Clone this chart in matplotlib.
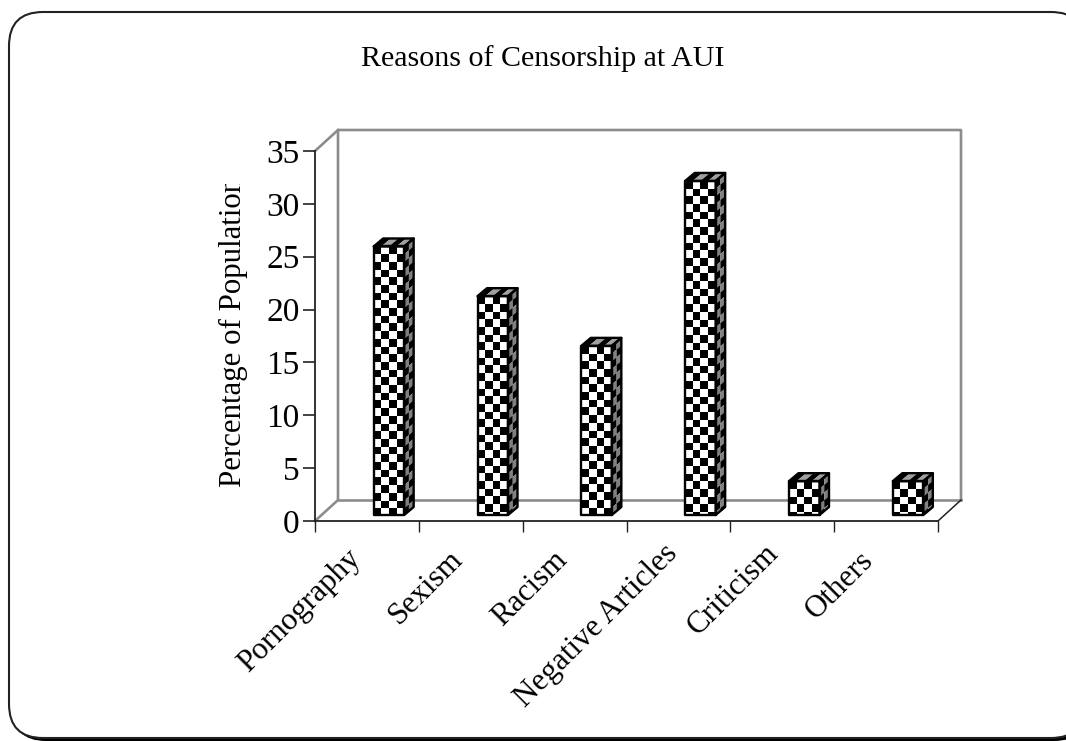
import numpy as np
import matplotlib.pyplot as plt
from matplotlib.patches import FancyBboxPatch, Polygon, Rectangle
from matplotlib.collections import PolyCollection

categories = ["Pornography", "Sexism", "Racism", "Negative Articles", "Criticism", "Others"]
values = [25.4, 20.7, 16.0, 31.6, 3.2, 3.2]
y_ticks = [0, 5, 10, 15, 20, 25, 30, 35]

W, H = 1066, 741
plt.rcParams['font.family'] = ['Liberation Serif', 'DejaVu Serif']

fig = plt.figure(figsize=(W / 100, H / 100), dpi=100)
bg = fig.add_axes([0, 0, 1, 1])
bg.set_xlim(0, W)
bg.set_ylim(H, 0)
bg.axis('off')

# rounded slide border, black shadow shows along the bottom
r = 34
bg.add_patch(FancyBboxPatch((9 + r + 3, 12 + r + 3), 1076 - 2 * r, 726 - 2 * r,
                            boxstyle=f"round,pad={r},rounding_size={r}",
                            fc='black', ec='none'))
bg.add_patch(FancyBboxPatch((9 + r, 12 + r), 1076 - 2 * r, 726 - 2 * r,
                            boxstyle=f"round,pad={r},rounding_size={r}",
                            fc='white', ec='#222222', lw=1.5))

L, R, B, T = 315, 938, 521, 151
ax = fig.add_axes([L / W, 1 - B / H, (R - L) / W, (B - T) / H])
ax.set_xlim(0, len(categories))
ax.set_ylim(0, 35)
ax.patch.set_alpha(0)
for s in ['top', 'right']:
    ax.spines[s].set_visible(False)
for s in ['left', 'bottom']:
    ax.spines[s].set_color('#222222')
    ax.spines[s].set_linewidth(1.3)

# pixel sizes converted to data units
px = len(categories) / (R - L)
py = 35 / (B - T)
wall_dx, wall_dy = 23 * px, 21 * py
bar_dx, bar_dy = 9.5 * px, 8 * py
bar_w = 30.5 * px
bar_shift = 22 * px
bar_base = 6 * py
cell_y = 7.7 * py


def wall_lines():
    kw = dict(color='#8c8c8c', lw=1.9, clip_on=False, zorder=1)
    n = len(categories)
    top = 35 + wall_dy
    ax.plot([0, wall_dx, wall_dx, n + wall_dx, n + wall_dx], [0, wall_dy, top, top, wall_dy], **kw)
    ax.plot([wall_dx, n + wall_dx], [wall_dy, wall_dy], **kw)
    ax.plot([0, wall_dx], [35, top], **kw)
    ax.plot([n, n + wall_dx], [0, wall_dy], color='#222222', lw=1.1, clip_on=False, zorder=1)


def checker(origin, u, v, nu, nv, c1, c2, phase=0):
    # fill a parallelogram with a nu by nv checkerboard and outline it
    o, u, v = np.array(origin), np.array(u), np.array(v)
    polys, colors = [], []
    for i in range(nu):
        for j in range(int(np.ceil(nv))):
            a, a2 = i / nu, (i + 1) / nu
            b, b2 = j / nv, min((j + 1) / nv, 1)
            polys.append([o + a * u + b * v, o + a2 * u + b * v, o + a2 * u + b2 * v, o + a * u + b2 * v])
            colors.append(c1 if (i + j + phase) % 2 == 0 else c2)
    ax.add_collection(PolyCollection(polys, facecolors=colors, edgecolors='none', clip_on=False, zorder=3))
    ax.add_patch(Polygon([o, o + u, o + u + v, o + v], closed=True, fc='none', ec='black',
                         lw=1.7, clip_on=False, zorder=4, joinstyle='round'))


def bar3d(center, h):
    x0 = center - bar_w / 2
    y1 = bar_base + h
    checker((x0, y1), (bar_w, 0), (0, -h), 4, h / cell_y, 'black', 'white')
    checker((x0 + bar_w, y1), (bar_dx, bar_dy), (0, -h), 2, h / cell_y, 'black', '#808080')
    checker((x0, y1), (bar_w, 0), (bar_dx, bar_dy), 4, 1, '#a0a0a0', 'black', phase=1)


wall_lines()
for i, v in enumerate(values):
    bar3d(i + 0.5 + bar_shift, v)

ax.set_xticks(range(len(categories) + 1))
ax.set_xticklabels([])
ax.set_yticks(y_ticks)
ax.tick_params(axis='y', labelsize=24, length=9, width=1.2, color='#222222', pad=2)
ax.tick_params(axis='x', direction='out', length=8, width=1.0, color='#222222')

# slanted category labels, right end placed by hand under each slot
label_nudge = [(-21, -23), (-22, -23), (-22, -24), (-15, -18), (-18, -18), (-27, -25)]
for i, name in enumerate(categories):
    ax.annotate(name, xy=(i + 0.5, 0), xytext=label_nudge[i], textcoords='offset pixels',
                ha='right', va='top', rotation=45, rotation_mode='anchor',
                fontsize=22.4, color='black', annotation_clip=False)

fig.text(543 / W, 1 - 59 / H, "Reasons of Censorship at AUI", fontsize=21.6, ha='center', va='center')

# axis title is cut off at the top of its box
yl = bg.text(233, 332, "Percentage of Population", rotation=90, fontsize=22.2,
             ha='center', va='center')
yl.set_clip_path(Rectangle((200, 184), 60, 320, transform=bg.transData))
yl.set_clip_on(True)

fig.savefig("out.png", dpi=100)
